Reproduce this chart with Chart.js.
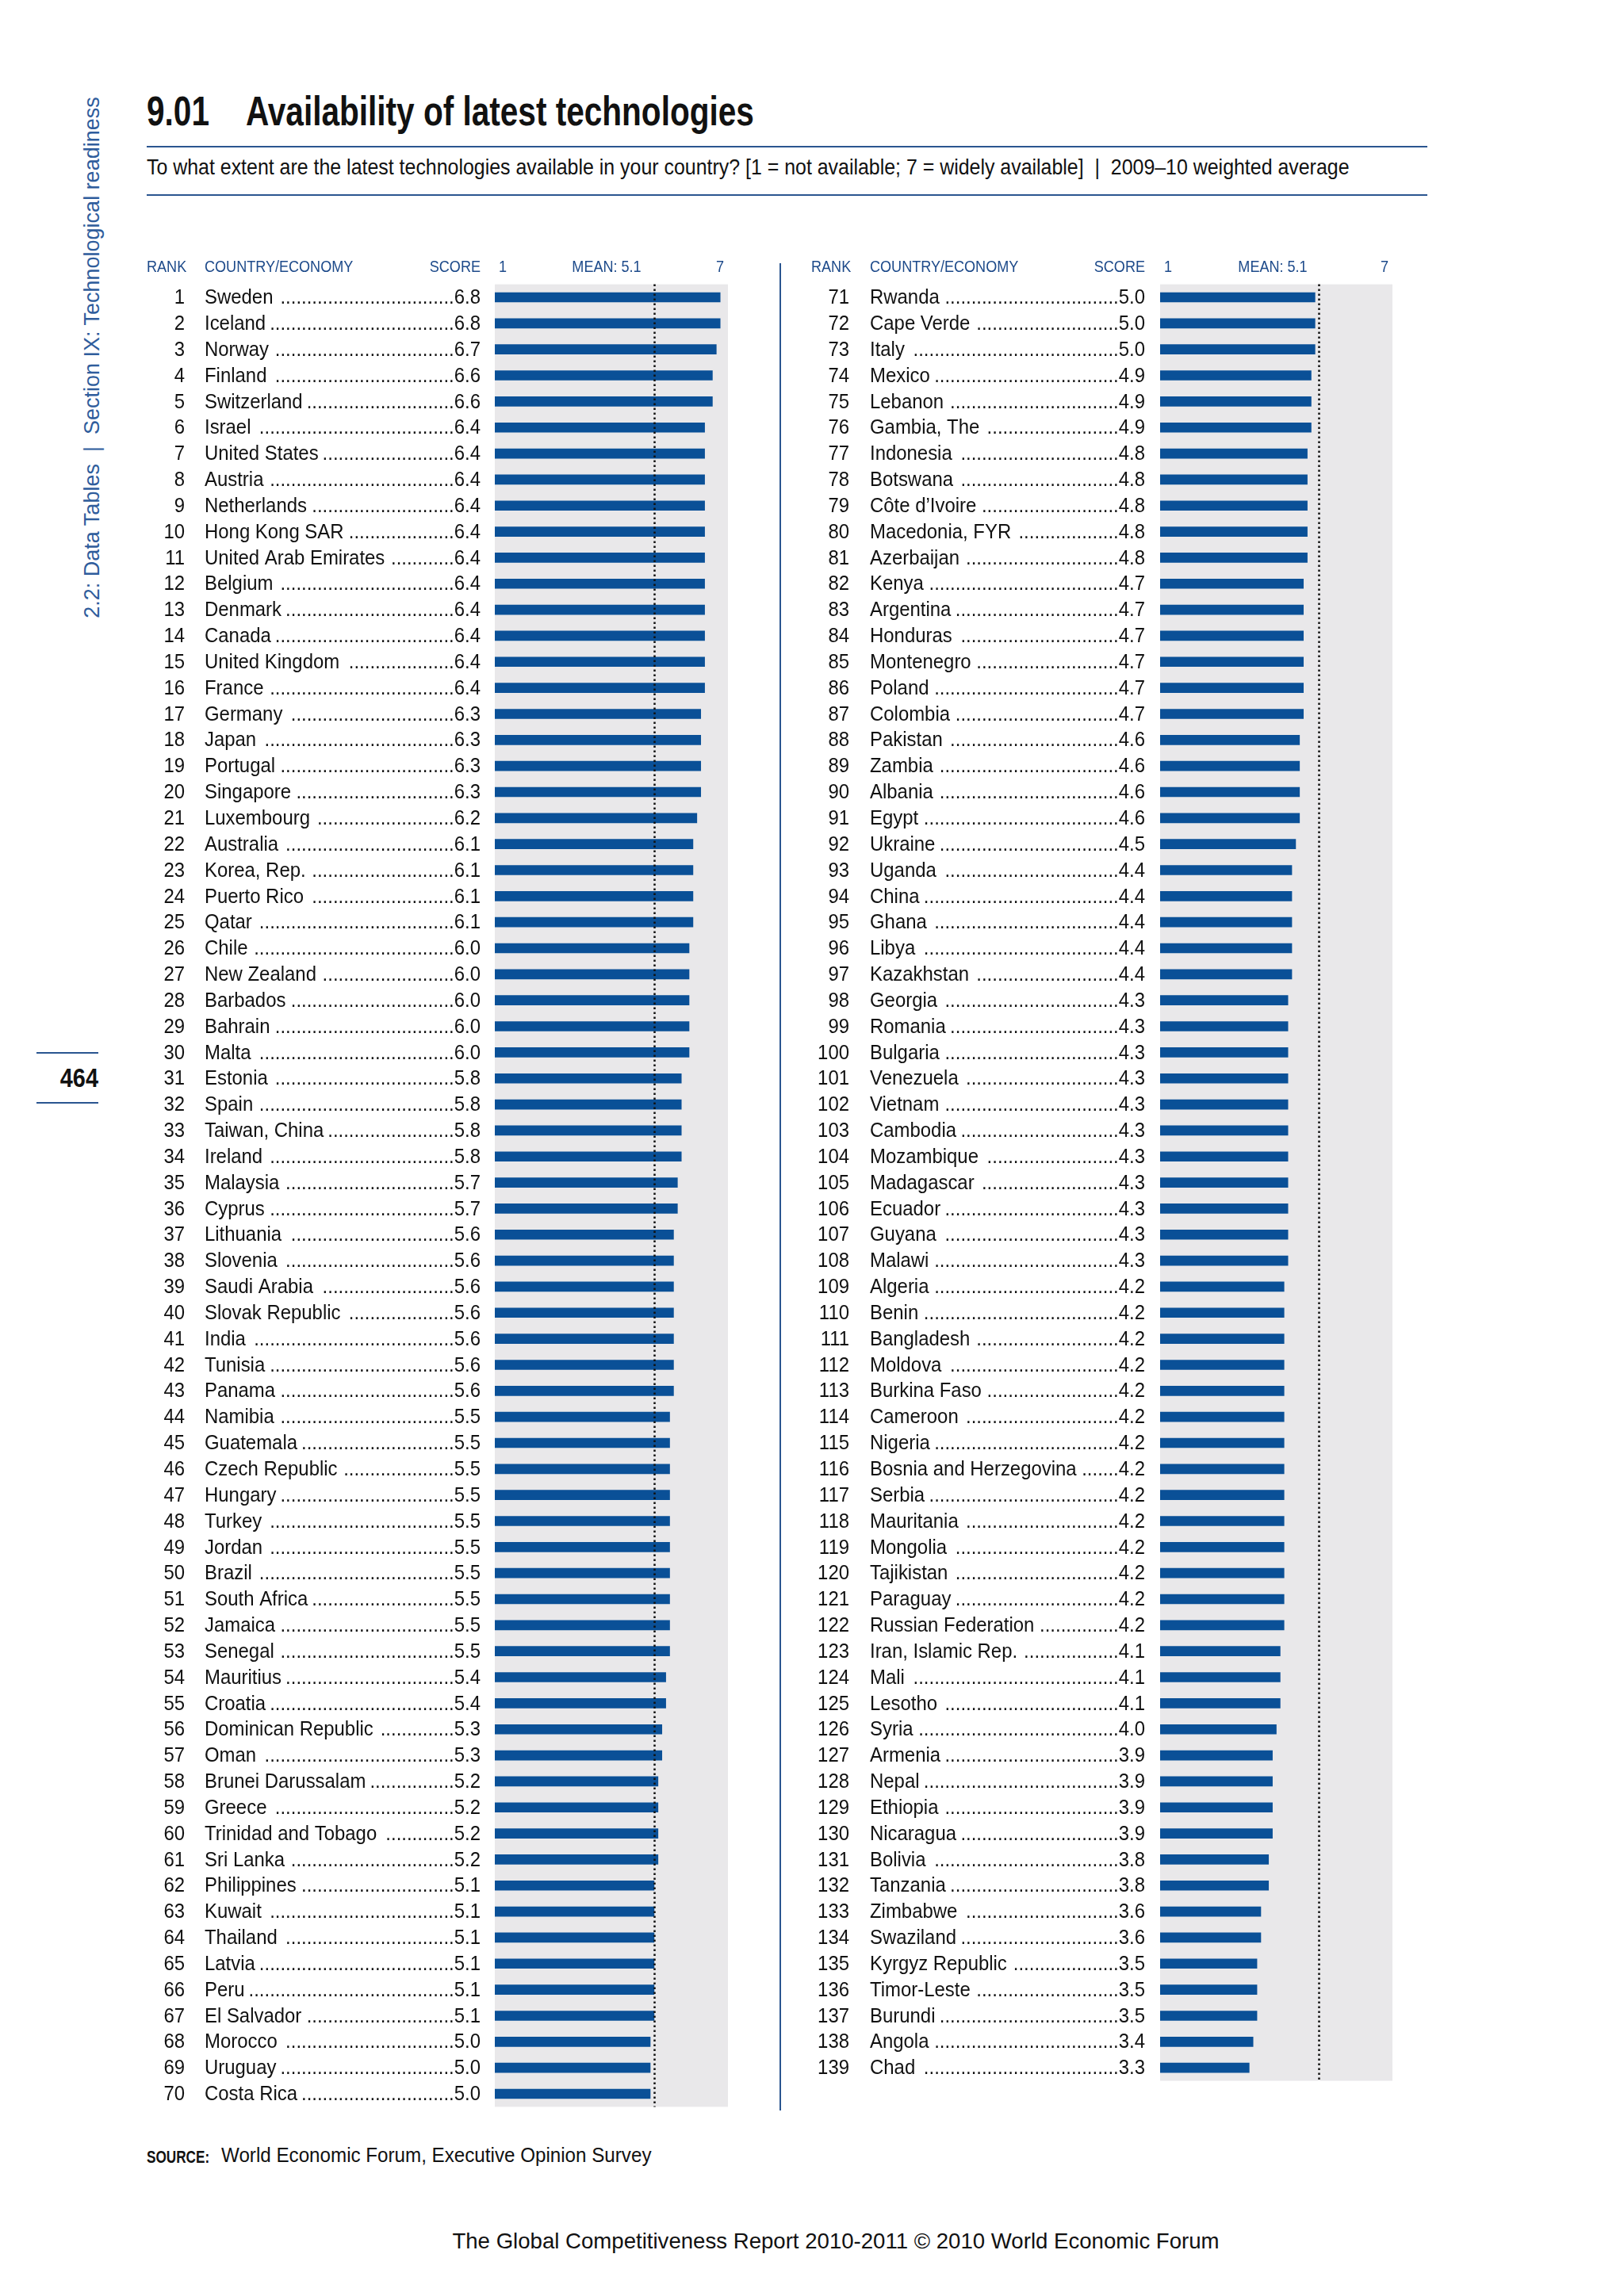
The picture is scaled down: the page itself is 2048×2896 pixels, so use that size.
<!DOCTYPE html>
<html>
<head>
<meta charset="utf-8">
<script src="https://cdn.jsdelivr.net/npm/chart.js@4.4.1/dist/chart.umd.min.js"></script>
<style>
  body { margin: 0; background: #fff; width: 2048px; height: 2896px; position: relative; overflow: hidden;
         font-family: "Liberation Sans", Arial, sans-serif; color: #111; }
  .abs { position: absolute; white-space: nowrap; transform-origin: 0 0; }
  canvas { position: absolute; }
  .rule { position: absolute; background: #2a5590; }
</style>
</head>
<body>

<div class="abs" style="left:116px;top:451px;transform:translate(-50%,-50%) rotate(-90deg);transform-origin:50% 50%;font-size:27px;color:#2f5d9c;">2.2: Data Tables&nbsp;&nbsp;|&nbsp;&nbsp;Section IX: Technological readiness</div>

<div class="rule" style="left:46px;top:1327px;width:78px;height:2px;"></div>
<div class="abs" style="left:124px;top:1340px;transform:translateX(-100%) scaleX(0.85);transform-origin:100% 0;font-weight:bold;font-size:34px;">464</div>
<div class="rule" style="left:46px;top:1390px;width:78px;height:2px;"></div>

<div class="abs" style="left:185px;top:110px;font-weight:bold;font-size:52px;transform:scaleX(0.78);">9.01</div>
<div class="abs" style="left:310px;top:110px;font-weight:bold;font-size:52px;transform:scaleX(0.78);">Availability of latest technologies</div>
<div class="rule" style="left:185px;top:184px;width:1615px;height:2px;"></div>
<div class="abs" style="left:185px;top:195px;font-size:28px;transform:scaleX(0.89);">To what extent are the latest technologies available in your country? [1 = not available; 7 = widely available]&nbsp;&nbsp;|&nbsp;&nbsp;2009–10 weighted average</div>
<div class="rule" style="left:185px;top:245px;width:1615px;height:2px;"></div>

<div class="rule" style="left:983px;top:332px;width:2px;height:2330px;"></div>

<canvas id="leftChart" width="760" height="2370" style="left:170px;top:310px;"></canvas>
<canvas id="rightChart" width="780" height="2370" style="left:1000px;top:310px;"></canvas>

<div class="abs" style="left:185px;top:2708px;font-weight:bold;font-size:22px;transform:scaleX(0.78);">SOURCE:</div>
<div class="abs" style="left:279px;top:2703px;font-size:26px;transform:scaleX(0.93);">World Economic Forum, Executive Opinion Survey</div>
<div class="abs" style="left:1054px;top:2811px;transform:translateX(-50%);font-size:27.6px;">The Global Competitiveness Report 2010-2011 © 2010 World Economic Forum</div>

<script>
const leftCountries = ["Sweden", "Iceland", "Norway", "Finland", "Switzerland", "Israel", "United States", "Austria",
  "Netherlands", "Hong Kong SAR", "United Arab Emirates", "Belgium", "Denmark", "Canada", "United Kingdom", "France",
  "Germany", "Japan", "Portugal", "Singapore", "Luxembourg", "Australia", "Korea, Rep.", "Puerto Rico", "Qatar",
  "Chile", "New Zealand", "Barbados", "Bahrain", "Malta", "Estonia", "Spain", "Taiwan, China", "Ireland", "Malaysia",
  "Cyprus", "Lithuania", "Slovenia", "Saudi Arabia", "Slovak Republic", "India", "Tunisia", "Panama", "Namibia",
  "Guatemala", "Czech Republic", "Hungary", "Turkey", "Jordan", "Brazil", "South Africa", "Jamaica", "Senegal",
  "Mauritius", "Croatia", "Dominican Republic", "Oman", "Brunei Darussalam", "Greece", "Trinidad and Tobago",
  "Sri Lanka", "Philippines", "Kuwait", "Thailand", "Latvia", "Peru", "El Salvador", "Morocco", "Uruguay", "Costa Rica"];
const leftScores = [6.8, 6.8, 6.7, 6.6, 6.6, 6.4, 6.4, 6.4, 6.4, 6.4, 6.4, 6.4, 6.4, 6.4, 6.4, 6.4,
  6.3, 6.3, 6.3, 6.3, 6.2, 6.1, 6.1, 6.1, 6.1, 6.0, 6.0, 6.0, 6.0, 6.0, 5.8, 5.8, 5.8, 5.8, 5.7,
  5.7, 5.6, 5.6, 5.6, 5.6, 5.6, 5.6, 5.6, 5.5, 5.5, 5.5, 5.5, 5.5, 5.5, 5.5, 5.5, 5.5, 5.5,
  5.4, 5.4, 5.3, 5.3, 5.2, 5.2, 5.2, 5.2, 5.1, 5.1, 5.1, 5.1, 5.1, 5.1, 5.0, 5.0, 5.0];

const rightCountries = ["Rwanda", "Cape Verde", "Italy", "Mexico", "Lebanon", "Gambia, The", "Indonesia", "Botswana",
  "Côte d’Ivoire", "Macedonia, FYR", "Azerbaijan", "Kenya", "Argentina", "Honduras", "Montenegro", "Poland",
  "Colombia", "Pakistan", "Zambia", "Albania", "Egypt", "Ukraine", "Uganda", "China", "Ghana", "Libya", "Kazakhstan",
  "Georgia", "Romania", "Bulgaria", "Venezuela", "Vietnam", "Cambodia", "Mozambique", "Madagascar", "Ecuador",
  "Guyana", "Malawi", "Algeria", "Benin", "Bangladesh", "Moldova", "Burkina Faso", "Cameroon", "Nigeria",
  "Bosnia and Herzegovina", "Serbia", "Mauritania", "Mongolia", "Tajikistan", "Paraguay", "Russian Federation",
  "Iran, Islamic Rep.", "Mali", "Lesotho", "Syria", "Armenia", "Nepal", "Ethiopia", "Nicaragua", "Bolivia",
  "Tanzania", "Zimbabwe", "Swaziland", "Kyrgyz Republic", "Timor-Leste", "Burundi", "Angola", "Chad"];
const rightScores = [5.0, 5.0, 5.0, 4.9, 4.9, 4.9, 4.8, 4.8, 4.8, 4.8, 4.8, 4.7, 4.7, 4.7, 4.7, 4.7,
  4.7, 4.6, 4.6, 4.6, 4.6, 4.5, 4.4, 4.4, 4.4, 4.4, 4.4, 4.3, 4.3, 4.3, 4.3, 4.3, 4.3, 4.3, 4.3, 4.3,
  4.3, 4.3, 4.2, 4.2, 4.2, 4.2, 4.2, 4.2, 4.2, 4.2, 4.2, 4.2, 4.2, 4.2, 4.2, 4.2,
  4.1, 4.1, 4.1, 4.0, 3.9, 3.9, 3.9, 3.9, 3.8, 3.8, 3.6, 3.6, 3.5, 3.5, 3.5, 3.4, 3.3];

const scaleMin = 1;
const scaleMax = 7;
const meanScore = 5.1;

const BLUE = '#0a5097';
const HEAD = '#1d4a8a';
const ROW_H = 32.84;

// text squeezed sideways, the report uses a condensed face
function squeezed(ctx, text, x, y, align, sx) {
  ctx.save();
  ctx.translate(x, y);
  ctx.scale(sx, 1);
  ctx.textAlign = align;
  ctx.fillText(text, 0, 0);
  ctx.restore();
  return ctx.measureText(text).width * sx;
}

// columns are in page pixels, turned into canvas pixels below
function makeTable(id, countries, scores, firstRank, cols) {
  const canvas = document.getElementById(id);
  const off = parseFloat(canvas.style.left);
  const top = parseFloat(canvas.style.top);
  const areaTop = 358.6;
  const areaBottom = areaTop + countries.length * ROW_H;

  const tablePlugin = {
    id: 'table_' + id,
    beforeDatasetsDraw(chart) {
      const { ctx, chartArea: a } = chart;
      ctx.save();
      ctx.fillStyle = '#e9e8ea';
      ctx.fillRect(a.left, a.top, a.right - a.left, a.bottom - a.top);
      ctx.restore();
    },
    afterDatasetsDraw(chart) {
      const { ctx, chartArea: a, scales: { x } } = chart;
      const mx = Math.round(x.getPixelForValue(meanScore)) + 0.5;
      ctx.save();
      ctx.strokeStyle = '#111';
      ctx.lineWidth = 2.5;
      ctx.setLineDash([2.5, 3.5]);
      ctx.beginPath();
      ctx.moveTo(mx, a.top);
      ctx.lineTo(mx, a.bottom);
      ctx.stroke();
      ctx.restore();
    },
    afterDraw(chart) {
      const { ctx, scales: { x, y } } = chart;
      ctx.save();
      // column headers
      ctx.font = '21px "Liberation Sans", Arial, sans-serif';
      ctx.fillStyle = HEAD;
      ctx.textBaseline = 'middle';
      const hy = 337 - top;
      const hs = 0.86;
      squeezed(ctx, 'RANK', cols.rankHead - off, hy, 'left', hs);
      squeezed(ctx, 'COUNTRY/ECONOMY', cols.country - off, hy, 'left', hs);
      squeezed(ctx, 'SCORE', cols.score - off, hy, 'right', hs);
      squeezed(ctx, String(scaleMin), x.getPixelForValue(scaleMin) + 5, hy, 'left', hs);
      squeezed(ctx, 'MEAN: ' + meanScore.toFixed(1), cols.meanHead - off, hy, 'center', hs);
      squeezed(ctx, String(scaleMax), x.getPixelForValue(scaleMax) - 5, hy, 'right', hs);

      // rows
      ctx.font = '26px "Liberation Sans", Arial, sans-serif';
      ctx.fillStyle = '#111';
      const rs = 0.92;
      const dotW = ctx.measureText('.').width * rs;
      countries.forEach((name, i) => {
        const yy = y.getPixelForValue(i) + 1;
        const sc = scores[i].toFixed(1);
        squeezed(ctx, String(firstRank + i), cols.rank - off, yy, 'right', rs);
        const scW = squeezed(ctx, sc, cols.score - off, yy, 'right', rs);
        const nameW = squeezed(ctx, name, cols.country - off, yy, 'left', rs);
        const nameEnd = cols.country - off + nameW + 5;
        const scoreStart = cols.score - off - scW;
        const n = Math.max(0, Math.floor((scoreStart - nameEnd) / dotW));
        squeezed(ctx, '.'.repeat(n), scoreStart, yy, 'right', rs);
      });
      ctx.restore();
    }
  };

  new Chart(canvas, {
    type: 'bar',
    data: {
      labels: countries,
      datasets: [{
        data: scores,
        base: scaleMin,
        backgroundColor: BLUE,
        borderWidth: 0,
        barThickness: 12
      }]
    },
    options: {
      indexAxis: 'y',
      responsive: false,
      animation: false,
      layout: {
        padding: {
          left: cols.axisLeft - off,
          right: canvas.width - (cols.axisRight - off),
          top: areaTop - top,
          bottom: canvas.height - (areaBottom - top)
        }
      },
      scales: {
        x: { min: scaleMin, max: scaleMax, display: false },
        y: { display: false }
      },
      plugins: { legend: { display: false }, tooltip: { enabled: false } }
    },
    plugins: [tablePlugin]
  });
}

makeTable('leftChart', leftCountries, leftScores, 1,
  { rankHead: 185, rank: 233, country: 258, score: 606, meanHead: 765, axisLeft: 624, axisRight: 918 });
makeTable('rightChart', rightCountries, rightScores, 71,
  { rankHead: 1023, rank: 1071, country: 1097, score: 1444, meanHead: 1605, axisLeft: 1463, axisRight: 1756 });
</script>
</body>
</html>
